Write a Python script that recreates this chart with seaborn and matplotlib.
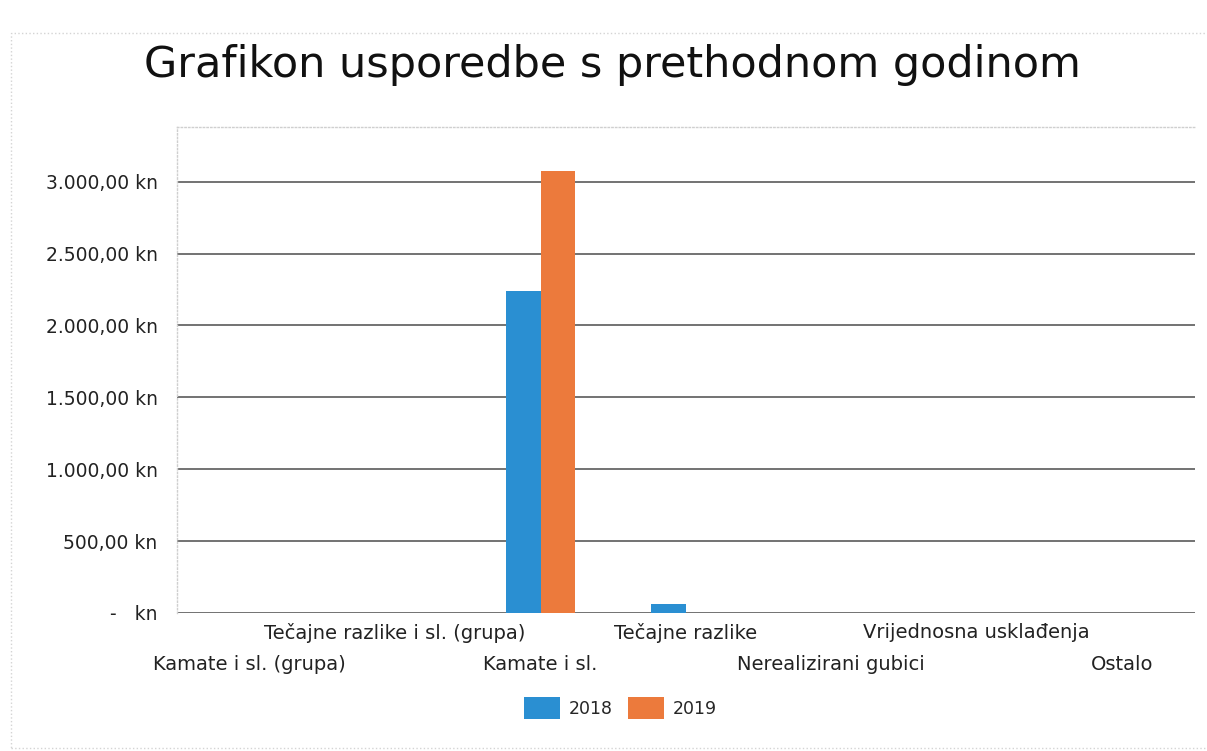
import pandas as pd
import matplotlib
matplotlib.use('Agg')
import matplotlib.pyplot as plt
import seaborn as sns
from matplotlib.patches import Rectangle

# values
categories = ['Kamate i sl. (grupa)', 'Tečajne razlike i sl. (grupa)', 'Kamate i sl.',
              'Tečajne razlike', 'Nerealizirani gubici', 'Vrijednosna usklađenja', 'Ostalo']
years = ['2018', '2019']
values_2018 = [0, 0, 2240, 60, 0, 0, 0]
values_2019 = [0, 0, 3075, 0, 0, 0, 0]
y_ticks = [0, 500, 1000, 1500, 2000, 2500, 3000]
y_tick_labels = ['-   kn', '500,00 kn', '1.000,00 kn', '1.500,00 kn',
                 '2.000,00 kn', '2.500,00 kn', '3.000,00 kn']

colors = ['#2a8fd2', '#ec7a3c']

df = pd.DataFrame({
    'kategorija': categories * 2,
    'iznos': values_2018 + values_2019,
    'godina': [years[0]] * len(categories) + [years[1]] * len(categories),
})

sns.set_style('white')
plt.rcParams['font.family'] = ['DejaVu Sans']

fig = plt.figure(figsize=(12.07, 7.51), dpi=100)
ax = fig.add_axes([0.1466, 0.1838, 0.8434, 0.6471])

sns.barplot(data=df, x='kategorija', y='iznos', hue='godina', order=categories,
            hue_order=years, palette=colors, width=0.48, saturation=1,
            linewidth=0, ax=ax)

ax.set_ylim(0, 3380)
ax.set_xlim(-0.5, len(categories) - 0.5)
ax.set_yticks(y_ticks, y_tick_labels)
ax.yaxis.grid(True, color='#5a5a5a', linewidth=1.2)
ax.set_axisbelow(True)
ax.set_xlabel('')
ax.set_ylabel('')

# staggered category labels: odd ones on the upper row, even ones lower
pos = list(range(len(categories)))
ax.set_xticks(pos[1::2], categories[1::2])
ax.set_xticks(pos[0::2], categories[0::2], minor=True)
ax.tick_params(axis='x', which='major', length=0, pad=7, labelsize=14, labelcolor='#222222')
ax.tick_params(axis='x', which='minor', length=0, pad=30, labelsize=14, labelcolor='#222222')
ax.tick_params(axis='y', length=0, pad=14, labelsize=13.5, labelcolor='#222222')

for side in ['right', 'bottom']:
    ax.spines[side].set_visible(False)
for side in ['left', 'top']:
    ax.spines[side].set_color('#cfcfcf')
    ax.spines[side].set_linestyle(':')
    ax.spines[side].set_linewidth(1)

sns.move_legend(ax, 'center', bbox_to_anchor=(0.514, 0.057), bbox_transform=fig.transFigure,
                ncol=2, frameon=False, title=None, fontsize=12.5, handlelength=2.05,
                handleheight=1.6, columnspacing=0.9, handletextpad=0.5)

fig.text(0.507, 0.913, 'Grafikon usporedbe s prethodnom godinom', ha='center', va='center',
         fontsize=31, color='#111111')

fig.patches.append(Rectangle((0.009, 0.004), 1.2, 0.952, transform=fig.transFigure,
                             fill=False, edgecolor='#d4d4d4', linewidth=1, linestyle=':'))

fig.savefig('out.png', dpi=100, facecolor='white')
